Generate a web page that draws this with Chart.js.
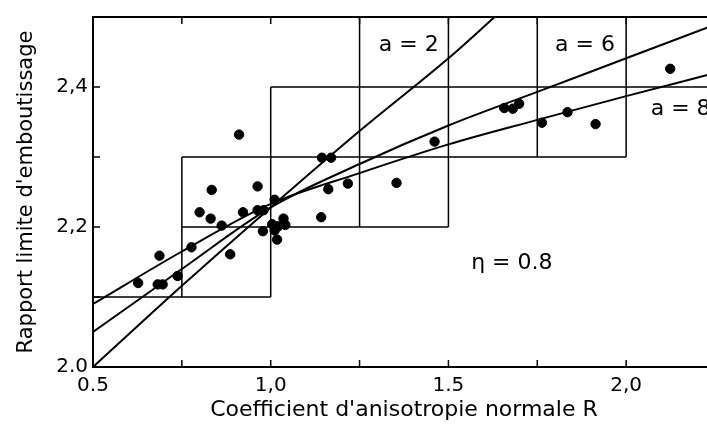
<!DOCTYPE html>
<html>
<head>
<meta charset="utf-8">
<script src="https://cdn.jsdelivr.net/npm/chart.js@4"></script>
<style>
html, body { margin: 0; padding: 0; background: #fff; overflow: hidden; }
#wrap { width: 707px; height: 433px; overflow: hidden; }
canvas { display: block; }
</style>
</head>
<body>
<div id="wrap"><canvas id="chart" width="722" height="433"></canvas></div>
<script>
// mesures : R (coefficient d'anisotropie) et rapport limite d'emboutissage
const measR = [0.911, 0.834, 0.963, 1.011, 0.800, 0.831, 0.922, 0.963, 0.980, 0.862,
    0.978, 1.004, 1.021, 1.036, 1.041, 1.011, 1.018, 0.777, 0.886, 0.687,
    0.627, 0.682, 0.696, 0.738, 1.144, 1.170, 1.162, 1.217, 1.354, 1.461,
    1.142, 1.657, 1.681, 1.699, 1.763, 1.835, 1.914, 2.124];
const measLDR = [2.332, 2.253, 2.258, 2.239, 2.221, 2.212, 2.221, 2.224, 2.224, 2.202,
    2.194, 2.204, 2.201, 2.212, 2.203, 2.195, 2.182, 2.171, 2.161, 2.159,
    2.120, 2.118, 2.118, 2.130, 2.299, 2.299, 2.254, 2.262, 2.263, 2.322,
    2.214, 2.370, 2.369, 2.376, 2.349, 2.364, 2.347, 2.426];

// courbes théoriques (a = 2, 6, 8)
const curveR_a2 = [0.5, 0.75, 1.0, 1.25, 1.5, 1.63];
const curveLDR_a2 = [2.0, 2.116, 2.228, 2.337, 2.441, 2.5];
const curveR = [0.5, 0.75, 1.0, 1.25, 1.5, 1.75, 2.0, 2.25];
const curveLDR_a6 = [2.05, 2.14, 2.228, 2.29, 2.345, 2.393, 2.441, 2.489];
const curveLDR_a8 = [2.09, 2.165, 2.233, 2.277, 2.318, 2.353, 2.387, 2.42];

// cases en escalier (segments, null = coupure)
const stepR   = [0.5, 1.0, null, 0.75, 1.5, null, 0.75, 2.0, null, 1.0, 2.25, null,
    0.75, 0.75, null, 1.0, 1.0, null, 1.25, 1.25, null, 1.5, 1.5, null, 1.75, 1.75, null, 2.0, 2.0];
const stepLDR = [2.1, 2.1, null, 2.2, 2.2, null, 2.3, 2.3, null, 2.4, 2.4, null,
    2.1, 2.3, null, 2.1, 2.4, null, 2.2, 2.5, null, 2.2, 2.5, null, 2.3, 2.5, null, 2.3, 2.5];

// graduations
const xTickVals = [0.5, 0.75, 1.0, 1.25, 1.5, 1.75, 2.0, 2.25];
const xTickText = ['0.5', '', '1,0', '', '1.5', '', '2,0', ''];
const yTickVals = [2.0, 2.1, 2.2, 2.3, 2.4, 2.5];
const yTickText = ['2.0', '', '2,2', '', '2,4', ''];

// annotations
const noteText = ['a = 2', 'a = 6', 'a = 8', 'η = 0.8'];
const noteR = [1.304, 1.800, 2.069, 1.564];
const noteLDR = [2.46, 2.46, 2.368, 2.148];

const FONT = 'DejaVu Sans';

const toPts = (xs, ys) => xs.map((x, i) => ({ x: x === null ? xs[i - 1] : x, y: ys[i] }));

const framePlugin = {
    id: 'frame',
    afterDatasetsDraw(chart) {
        const { ctx, chartArea: a, scales: { x, y } } = chart;
        ctx.save();
        ctx.strokeStyle = '#000';
        ctx.lineWidth = 2;
        ctx.beginPath();
        ctx.moveTo(a.right + 5, a.top); ctx.lineTo(a.left, a.top);
        ctx.lineTo(a.left, a.bottom); ctx.lineTo(a.right + 5, a.bottom);
        ctx.stroke();
        // petites graduations vers l'intérieur
        ctx.lineWidth = 1.5;
        ctx.beginPath();
        xTickVals.slice(1).forEach(v => {
            const px = x.getPixelForValue(v);
            ctx.moveTo(px, a.bottom); ctx.lineTo(px, a.bottom - 7);
            ctx.moveTo(px, a.top); ctx.lineTo(px, a.top + 7);
        });
        yTickVals.slice(1, -1).forEach(v => {
            const py = y.getPixelForValue(v);
            ctx.moveTo(a.left, py); ctx.lineTo(a.left + 7, py);
        });
        ctx.stroke();
        // textes
        ctx.fillStyle = '#000';
        ctx.font = '22px "' + FONT + '"';
        ctx.textAlign = 'left';
        ctx.textBaseline = 'middle';
        noteText.forEach((t, i) => {
            ctx.fillText(t, x.getPixelForValue(noteR[i]), y.getPixelForValue(noteLDR[i]));
        });
        ctx.restore();
    }
};

new Chart(document.getElementById('chart'), {
    type: 'scatter',
    data: {
        datasets: [
            {
                type: 'line', data: toPts(stepR, stepLDR), borderColor: '#000', borderWidth: 1.5,
                pointRadius: 0, spanGaps: false, tension: 0, order: 4
            },
            {
                type: 'line', data: toPts(curveR_a2, curveLDR_a2), borderColor: '#000', borderWidth: 2,
                pointRadius: 0, cubicInterpolationMode: 'monotone', order: 3
            },
            {
                type: 'line', data: toPts(curveR, curveLDR_a6), borderColor: '#000', borderWidth: 2,
                pointRadius: 0, cubicInterpolationMode: 'monotone', order: 3
            },
            {
                type: 'line', data: toPts(curveR, curveLDR_a8), borderColor: '#000', borderWidth: 2,
                pointRadius: 0, cubicInterpolationMode: 'monotone', order: 3
            },
            {
                data: toPts(measR, measLDR), backgroundColor: '#000', borderColor: '#000',
                pointRadius: 4.7, pointHoverRadius: 4.7, order: 1
            }
        ]
    },
    options: {
        responsive: false,
        animation: false,
        events: [],
        layout: { padding: { top: 15, right: 4, left: 0, bottom: 0 } },
        plugins: { legend: { display: false }, tooltip: { enabled: false } },
        scales: {
            x: {
                type: 'linear', min: 0.5, max: 2.25,
                grid: { display: false, drawTicks: false },
                border: { display: false },
                afterBuildTicks: s => { s.ticks = xTickVals.map(v => ({ value: v })); },
                afterFit: s => { s.height = 66; },
                ticks: {
                    autoSkip: false, maxRotation: 0, padding: 7, color: '#000',
                    font: { family: FONT, size: 20 },
                    callback: (v, i) => xTickText[i]
                },
                title: {
                    display: true, text: "Coefficient d'anisotropie normale R", color: '#000',
                    font: { family: FONT, size: 22 }, padding: { top: 0, bottom: 10 }
                }
            },
            y: {
                type: 'linear', min: 2.0, max: 2.5,
                grid: { display: false, drawTicks: false },
                border: { display: false },
                afterBuildTicks: s => { s.ticks = yTickVals.map(v => ({ value: v })); },
                afterFit: s => { s.width = 93; },
                ticks: {
                    autoSkip: false, padding: 5, color: '#000',
                    font: { family: FONT, size: 20 },
                    callback: (v, i) => yTickText[i]
                },
                title: {
                    display: true, text: "Rapport limite d'emboutissage", color: '#000',
                    font: { family: FONT, size: 21 }, padding: { top: 14, bottom: 0 }
                }
            }
        }
    },
    plugins: [framePlugin]
});
</script>
</body>
</html>
